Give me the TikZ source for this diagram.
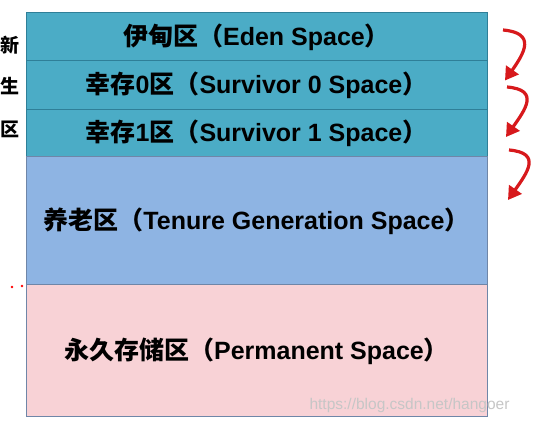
\documentclass[tikz,border=0pt]{standalone}
\usepackage{fontspec}
\setmainfont{Liberation Sans}
\newfontfamily\cjk{Noto Sans CJK SC}
\usepackage{tikz}
\usetikzlibrary{positioning,arrows.meta}

\definecolor{younggen}{HTML}{4BACC6}
\definecolor{youngline}{HTML}{2F7F98}
\definecolor{tenuregen}{HTML}{8EB4E3}
\definecolor{permgen}{HTML}{F8D2D6}
\definecolor{heapline}{HTML}{6F86A8}
\definecolor{jumpred}{HTML}{D7191C}

\tikzset{
  area/.style={rectangle, minimum width=461pt, inner sep=0pt, outer sep=0pt,
    line width=1pt, font=\fontsize{25}{25}\selectfont\bfseries},
  youngarea/.style={area, fill=younggen, draw=youngline},
  jump/.style={jumpred, line width=3.2pt,
    -{Triangle[length=13pt,width=15pt]}},
}

\begin{document}
\begin{tikzpicture}[x=1pt,y=1pt]
    \useasboundingbox (0,0) rectangle (538,422);
    \fill[white] (0,0) rectangle (538,422);
    % heap areas, top to bottom
    \node[youngarea, minimum height=48pt] (eden) at (256.5,385)
      {{\cjk 伊甸区（}Eden Space{\cjk ）}};
    \node[youngarea, minimum height=49pt, below=0pt of eden] (surv0)
      {{\cjk 幸存}0{\cjk 区（}Survivor 0 Space{\cjk ）}};
    \node[youngarea, minimum height=47pt, below=0pt of surv0] (surv1)
      {{\cjk 幸存}1{\cjk 区（}Survivor 1 Space{\cjk ）}};
    \node[area, fill=tenuregen, draw=heapline, minimum height=128pt,
      below=0pt of surv1] (tenure)
      {{\cjk 养老区（}Tenure Generation Space{\cjk ）}};
    \node[area, fill=permgen, draw=heapline, minimum height=132pt,
      below=0pt of tenure] (perm)
      {{\cjk 永久存储区（}Permanent Space{\cjk ）}};
    % young generation label
    \foreach \ch/\y [count=\i] in {新/377, 生/336, 区/293}
      \node[font=\cjk\fontsize{19}{19}\selectfont\bfseries] (young\i) at (10,\y) {\ch};
    % moves between areas
    \draw[jump] ([xshift=16pt,yshift=7pt]eden.east)
      to[out=-5,in=55,looseness=1.7] ([xshift=18pt,yshift=5pt]surv0.east);
    \draw[jump] ([xshift=20pt,yshift=-1.5pt]surv0.east)
      to[out=-5,in=55,looseness=1.7] ([xshift=19pt,yshift=-3.5pt]surv1.east);
    \draw[jump] ([xshift=22pt,yshift=-16.5pt]surv1.east)
      to[out=-5,in=55,looseness=1.7] ([xshift=21pt,yshift=21pt]tenure.east);
    % stray marks
    \fill[red] (12,135) circle (1.3pt) (22,136) circle (1.3pt);
    \node[text=gray!45, font=\fontsize{15.5}{15.5}\selectfont, anchor=east] (mark)
      at (513,17) {https://blog.csdn.net/hangoer};
\end{tikzpicture}
\end{document}
